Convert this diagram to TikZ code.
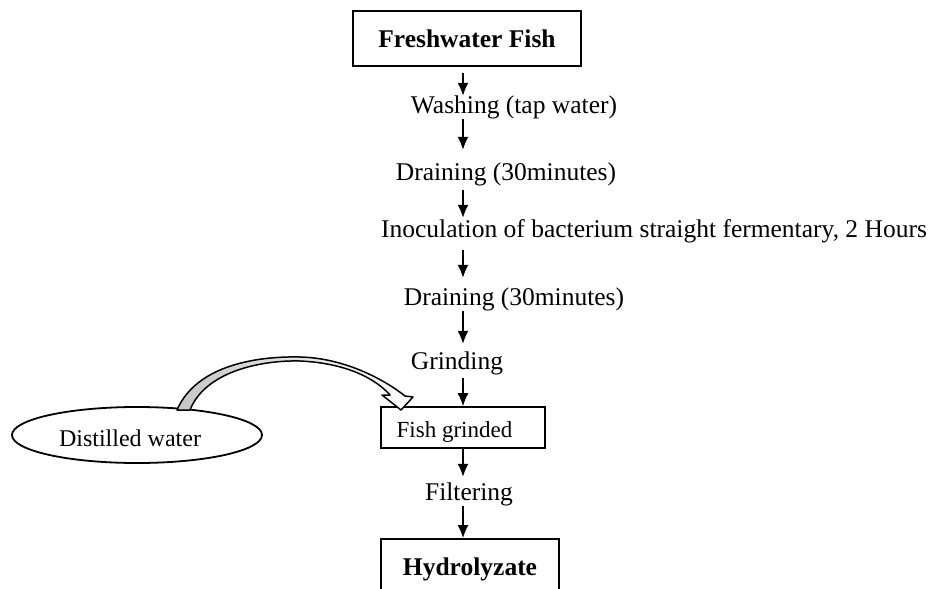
\documentclass[tikz,border=0pt]{standalone}
\usepackage{fontspec}
\setmainfont{Liberation Serif}
\usetikzlibrary{arrows.meta,shapes.geometric}

\begin{document}
\begin{tikzpicture}[x=1pt,y=-1pt,>={Latex[length=13pt,width=11pt]},
  stage/.style={inner sep=0pt,anchor=base,text height=17pt,text depth=6pt,font=\fontsize{25.5}{30}\selectfont},
  endbox/.style={draw,line width=1.9pt,inner sep=0pt,text height=17pt,text depth=0pt,minimum height=55pt,font=\fontsize{25.5}{30}\selectfont\bfseries},
  flow/.style={->,line width=1.4pt}]
		\useasboundingbox (0,0) rectangle (932,589);
		\coordinate (spine) at (463,0);
		\node[endbox,minimum width=228pt] (fresh) at (467,38.5) {Freshwater Fish};
		\node[stage] (wash) at (514,113) {Washing (tap water)};
		\node[stage] (drain1) at (506,180) {Draining (30minutes)};
		\node[stage] (inoc) at (654,237) {Inoculation of bacterium straight fermentary, 2 Hours};
		\node[stage] (drain2) at (514,305) {Draining (30minutes)};
		\node[stage] (grind) at (457,369) {Grinding};
		\node[draw,line width=1.6pt,minimum width=164pt,minimum height=41pt,inner sep=0pt,text height=20pt,text depth=0pt,font=\fontsize{23}{27}\selectfont] (grinded) at (463,427.5) {Fish grinded\kern17pt};
		\node[ellipse,draw,line width=1.8pt,minimum width=250pt,minimum height=56pt,inner sep=0pt,text height=22pt,text depth=0pt,font=\fontsize{24}{28}\selectfont] (water) at (137,435) {Distilled water\kern14pt};
		\node[stage] (filter) at (469,500) {Filtering};
		\node[endbox,minimum width=178pt] (hydro) at (470,566.5) {Hydrolyzate};
		% process arrows
		\draw[flow,shorten <=6pt] (fresh.south -| spine) -- (wash.north -| spine);
		\draw[flow,shorten >=13pt] (wash.south -| spine) -- (drain1.north -| spine);
		\draw[flow,shorten <=4pt,shorten >=2pt] (drain1.south -| spine) -- (inoc.north -| spine);
		\draw[flow,shorten <=7pt,shorten >=10pt] (inoc.south -| spine) -- (drain2.north -| spine);
		\draw[flow,shorten >=8pt] (drain2.south -| spine) -- (grind.north -| spine);
		\draw[flow,shorten <=3pt] (grind.south -| spine) -- (grinded.north -| spine);
		\draw[flow,shorten >=6pt] (grinded.south -| spine) -- (filter.north -| spine);
		\draw[flow] (filter.south -| spine) -- (hydro.north -| spine);
		% water into the grinded fish
		\draw[line width=1.5pt,line join=round,left color=gray!45,right color=white]
			(177,410) .. controls (196,366) and (255,356) .. (300,357)
			.. controls (345,358) and (385,380) .. (405,396) -- (413,397) -- (401,410) -- (382,395) -- (390,395)
			.. controls (375,378) and (345,363) .. (300,361)
			.. controls (260,360) and (205,372) .. (190,410) -- cycle;
\end{tikzpicture}
\end{document}
